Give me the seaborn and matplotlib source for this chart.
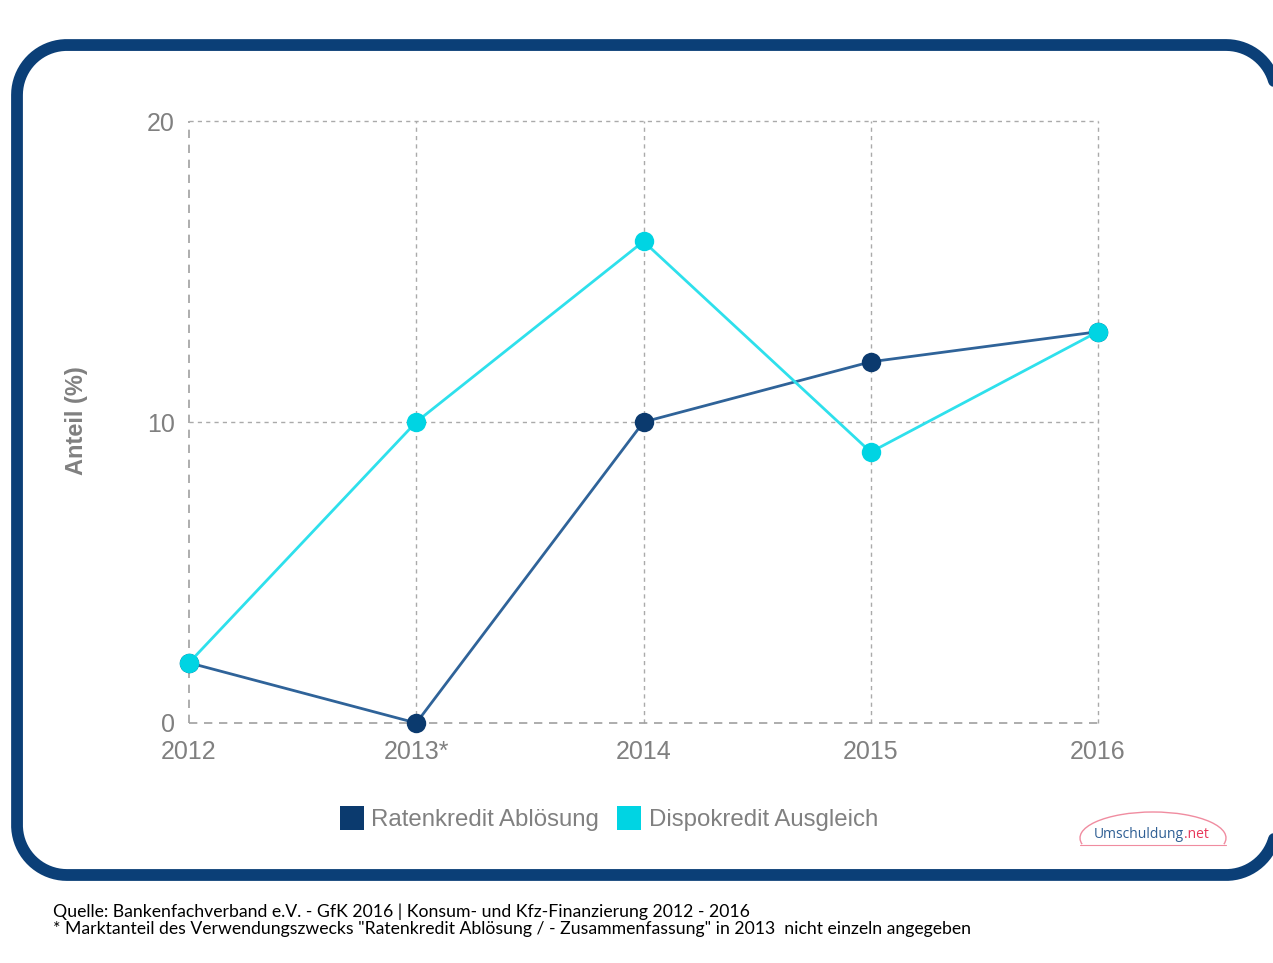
import numpy as np
import pandas as pd
import matplotlib
matplotlib.use('Agg')
import matplotlib.pyplot as plt
import seaborn as sns
from matplotlib.patches import Arc
from matplotlib.lines import Line2D
from matplotlib.transforms import IdentityTransform

# ==========================================================
# DATOS
# ==========================================================
jahre = ['2012', '2013*', '2014', '2015', '2016']
ratenkredit = [2, 0, 10, 12, 13]
dispokredit = [2, 10, 16, 9, 13]
serien = ['Ratenkredit Ablösung', 'Dispokredit Ausgleich']
y_ticks = [0, 10, 20]

df = pd.DataFrame({
    'pos': list(range(len(jahre))) * 2,
    'wert': ratenkredit + dispokredit,
    'serie': [serien[0]] * len(jahre) + [serien[1]] * len(jahre),
})

linien_farben = {serien[0]: '#2F6399', serien[1]: '#2EE0EC'}
punkt_farben = {serien[0]: '#0B3A6E', serien[1]: '#00D4E3'}

# ==========================================================
# FIGUR
# ==========================================================
sns.set_style('white')
plt.rcParams['font.family'] = ['Liberation Sans', 'DejaVu Sans']

fig = plt.figure(figsize=(12.73, 9.63), dpi=100)
ax = fig.add_axes([189 / 1273, 1 - 723 / 963, (1098 - 189) / 1273, (723 - 121) / 963])

# Gitterlinien
for x in range(1, len(jahre)):
    ax.axvline(x, color='#AAAAAA', lw=1, ls=(0, (3, 3)), zorder=0, clip_on=False)
ax.axvline(0, color='#A0A0A0', lw=1.2, ls=(0, (5, 4)), zorder=0, clip_on=False)
for y in [10, 20]:
    ax.axhline(y, color='#AAAAAA', lw=1, ls=(0, (3, 3)), zorder=0, clip_on=False)
ax.axhline(0, color='#A0A0A0', lw=1.2, ls=(0, (5, 4)), zorder=0, clip_on=False)

for s in serien:
    sub = df[df['serie'] == s]
    sns.lineplot(data=sub, x='pos', y='wert', ax=ax, color=linien_farben[s],
                 linewidth=2, marker='o', markersize=14,
                 markerfacecolor=punkt_farben[s], markeredgewidth=0,
                 clip_on=False, zorder=3, legend=False)

ax.set_xlim(0, 4)
ax.set_ylim(0, 20)
ax.set_xticks(range(len(jahre)))
ax.set_xticklabels(jahre)
ax.set_yticks(y_ticks)
ax.tick_params(axis='x', length=0, pad=12, labelsize=18, labelcolor='#808080')
ax.tick_params(axis='y', length=0, pad=10, labelsize=18, labelcolor='#808080')
ax.set_xlabel('')
ax.set_ylabel('')
sns.despine(ax=ax, left=True, bottom=True)

fig.text(77 / 1273, 1 - 421 / 963, 'Anteil (%)', rotation=90, fontsize=17,
         fontweight='bold', color='#808080', ha='center', va='center')

# Legende
handles = [Line2D([0], [0], marker='s', ls='', markersize=17,
                  markerfacecolor=punkt_farben[s], markeredgewidth=0) for s in serien]
fig.legend(handles, serien, loc='center', bbox_to_anchor=(609 / 1273, 1 - 820 / 963),
           ncol=2, frameon=False, fontsize=17.3, labelcolor='#808080',
           handletextpad=0.3, columnspacing=0.75, handlelength=1.0)

# Rahmen (abgerundetes Rechteck in Pixeln)
x0, x1, y0, y1, r = 17, 1276, 963 - 875, 963 - 45, 50
ecken = [(x1 - r, y1 - r, 0, 90), (x0 + r, y1 - r, 90, 180),
         (x0 + r, y0 + r, 180, 270), (x1 - r, y0 + r, 270, 360)]
px, py = [], []
for cx, cy, a0, a1 in ecken:
    t = np.radians(np.linspace(a0, a1, 40))
    px.extend(cx + r * np.cos(t))
    py.extend(cy + r * np.sin(t))
px.append(px[0])
py.append(py[0])
fig.add_artist(Line2D(px, py, transform=IdentityTransform(), color='#0B3F77',
                      lw=8.5, solid_joinstyle='round'))

# Logo
fig.text(1184 / 1273, 1 - 834 / 963, 'Umschuldung', fontsize=10, color='#2F5F94',
         ha='right', va='center', family=['Open Sans', 'DejaVu Sans'])
fig.text(1184 / 1273, 1 - 834 / 963, '.net', fontsize=10, color='#E8385A',
         ha='left', va='center', family=['Open Sans', 'DejaVu Sans'])
bogen = Arc((1153, 963 - 838), 146, 52, theta1=-5, theta2=185,
            transform=IdentityTransform(), color='#F08CA0', lw=1)
fig.add_artist(bogen)
fig.add_artist(Line2D([1080, 1226], [963 - 845, 963 - 845], transform=IdentityTransform(),
                      color='#F08CA0', lw=0.8))

# Quelle
fig.text(53 / 1273, 1 - 912 / 963,
         'Quelle: Bankenfachverband e.V. - GfK 2016 | Konsum- und Kfz-Finanzierung 2012 - 2016',
         fontsize=12.7, color='black', ha='left', va='center', family=['Lato', 'DejaVu Sans'])
fig.text(53 / 1273, 1 - 929 / 963,
         '* Marktanteil des Verwendungszwecks "Ratenkredit Ablösung / - Zusammenfassung" in 2013  nicht einzeln angegeben',
         fontsize=12.7, color='black', ha='left', va='center', family=['Lato', 'DejaVu Sans'])

fig.savefig('out.png', dpi=100)
